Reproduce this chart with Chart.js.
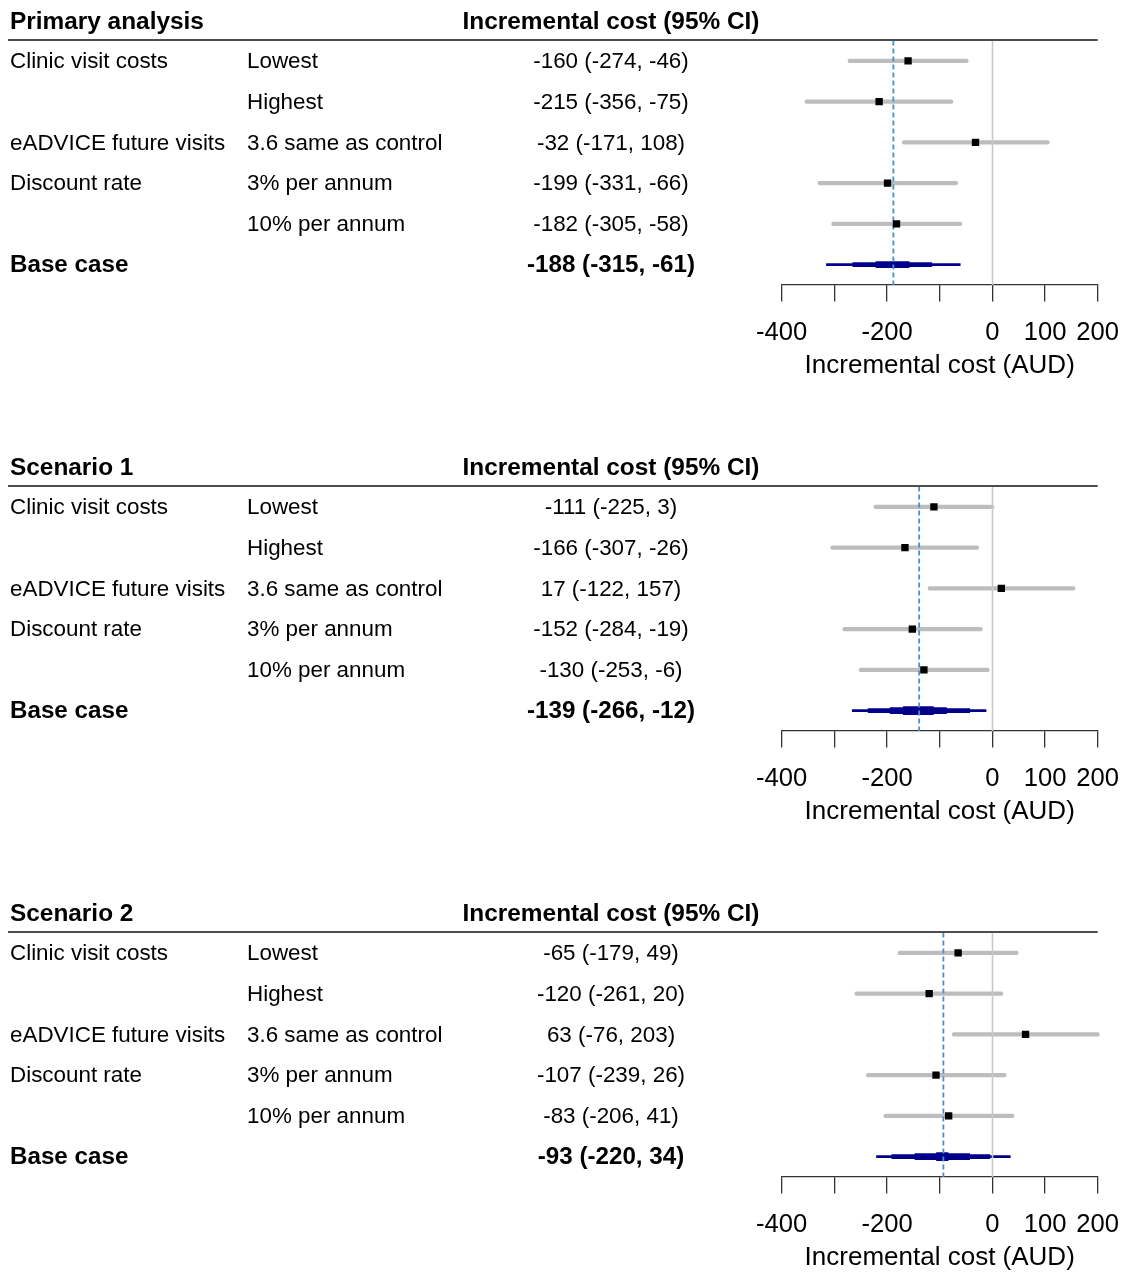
<!DOCTYPE html>
<html>
<head>
<meta charset="utf-8">
<script src="https://cdn.jsdelivr.net/npm/chart.js@4.4.1/dist/chart.umd.min.js"></script>
<style>
  html, body { margin: 0; padding: 0; background: #ffffff; overflow: hidden; width: 1126px; height: 1272px; }
  .panel { position: absolute; left: 0; width: 1126px; height: 446px; }
  canvas { display: block; }
</style>
</head>
<body>
<div class="panel" style="top:0px"><canvas id="primary" width="1126" height="446"></canvas></div>
<div class="panel" style="top:446px"><canvas id="scenario1" width="1126" height="446"></canvas></div>
<div class="panel" style="top:892px"><canvas id="scenario2" width="1126" height="446"></canvas></div>
<script>
// Table rows (shared by all three panels)
const rowGroups = ['Clinic visit costs', '', 'eADVICE future visits', 'Discount rate', '', 'Base case'];
const rowLevels = ['Lowest', 'Highest', '3.6 same as control', '3% per annum', '10% per annum', ''];
const rowKeys   = ['Lowest', 'Highest', '3.6 same as control', '3% per annum', '10% per annum', 'Base case'];

// Axis
const xMin = -400;
const xMax = 200;
const xStep = 100;
const xTickLabels = { '-400': '-400', '-300': '', '-200': '-200', '-100': '', '0': '0', '100': '100', '200': '200' };
const xAxisTitle = 'Incremental cost (AUD)';
const estimateHeader = 'Incremental cost (95% CI)';

// Primary analysis
const primaryEst  = [-160, -215, -32, -199, -182, -188];
const primaryLow  = [-274, -356, -171, -331, -305, -315];
const primaryHigh = [-46, -75, 108, -66, -58, -61];
const primaryBandMid   = [-265, -115];
const primaryBandInner = [-221, -158];
const primaryBandCore  = null;

// Scenario 1
const scen1Est  = [-111, -166, 17, -152, -130, -139];
const scen1Low  = [-225, -307, -122, -284, -253, -266];
const scen1High = [3, -26, 157, -19, -6, -12];
const scen1BandMid   = [-236, -43];
const scen1BandInner = [-194, -87];
const scen1BandCore  = [-169, -112];

// Scenario 2
const scen2Est  = [-65, -120, 63, -107, -83, -93];
const scen2Low  = [-179, -261, -76, -239, -206, -220];
const scen2High = [49, 20, 203, 26, 41, 34];
const scen2BandMid   = [-191, -5];
const scen2BandInner = [-147, -43];
const scen2BandCore  = [-106, -84];

const FONT = '"Liberation Sans", Arial, Helvetica, sans-serif';
const NAVY = '#00008b';
const AXIS_Y = 285;

// Reference lines, table text and header rule around each forest plot
const forestDecor = {
  id: 'forestDecor',
  beforeDatasetDraw(chart, args, opts) {
    if (args.index !== 0) return;
    const { ctx, chartArea: a, scales: { x } } = chart;
    ctx.save();
    // line of no difference
    const x0 = Math.round(x.getPixelForValue(0)) + 0.5;
    ctx.strokeStyle = '#c8c8c8';
    ctx.lineWidth = 1.6;
    ctx.beginPath(); ctx.moveTo(x0, a.top); ctx.lineTo(x0, a.bottom); ctx.stroke();
    // base-case estimate
    const xb = x.getPixelForValue(opts.base);
    ctx.strokeStyle = '#4a8fd0';
    ctx.lineWidth = 1.8;
    ctx.setLineDash([5, 3]);
    ctx.beginPath(); ctx.moveTo(xb, a.top); ctx.lineTo(xb, a.bottom); ctx.stroke();
    ctx.restore();
  },
  afterDraw(chart, args, opts) {
    const { ctx, chartArea: a, scales: { y } } = chart;
    ctx.save();
    ctx.fillStyle = '#000';
    ctx.textBaseline = 'middle';
    // header
    ctx.font = 'bold 24.4px ' + FONT;
    ctx.textAlign = 'left';
    ctx.fillText(opts.title, 10, 22);
    ctx.textAlign = 'center';
    ctx.fillText(estimateHeader, 611, 22);
    ctx.strokeStyle = '#4d4d4d';
    ctx.lineWidth = 2;
    ctx.beginPath(); ctx.moveTo(8, a.top - 0.5); ctx.lineTo(a.right, a.top - 0.5); ctx.stroke();
    // rows
    const last = rowKeys.length - 1;
    rowKeys.forEach((k, i) => {
      const yy = y.getPixelForValue(i) + 1;
      const bold = i === last;
      ctx.font = (bold ? 'bold 24.2px ' : '22.4px ') + FONT;
      ctx.textAlign = 'left';
      if (rowGroups[i]) ctx.fillText(rowGroups[i], 10, yy);
      if (rowLevels[i]) ctx.fillText(rowLevels[i], 247, yy);
      ctx.textAlign = 'center';
      ctx.fillText(opts.est[i] + ' (' + opts.low[i] + ', ' + opts.high[i] + ')', 611, yy);
    });
    ctx.restore();
  }
};

function buildPanel(id, title, est, low, high, bandMid, bandInner, bandCore) {
  const last = rowKeys.length - 1;
  const whiskers = rowKeys.map((k, i) => (i === last ? null : [low[i], high[i]]));
  const band = (range) => rowKeys.map((k, i) => (i === last && range ? range : null));
  const points = rowKeys.slice(0, last).map((k, i) => ({ x: est[i], y: k }));

  new Chart(document.getElementById(id), {
    type: 'bar',
    data: {
      labels: rowKeys,
      datasets: [
        { type: 'scatter', data: points, pointStyle: 'rect', pointRadius: 5.2, pointBorderWidth: 0,
          backgroundColor: '#000', borderColor: '#000', xAxisID: 'x', yAxisID: 'y' },
        { data: band(bandCore), backgroundColor: NAVY, barThickness: 8, grouped: false, borderSkipped: false, xAxisID: 'x', yAxisID: 'y' },
        { data: band(bandInner), backgroundColor: NAVY, barThickness: 6, grouped: false, borderSkipped: false, xAxisID: 'x', yAxisID: 'y' },
        { data: band(bandMid), backgroundColor: NAVY, barThickness: 4, grouped: false, borderSkipped: false, xAxisID: 'x', yAxisID: 'y' },
        { data: band([low[last], high[last]]), backgroundColor: NAVY, barThickness: 2, grouped: false, borderSkipped: false, xAxisID: 'x', yAxisID: 'y' },
        { data: whiskers, backgroundColor: '#bdbdbd', barThickness: 3.5, borderRadius: 1.75, grouped: false,
          borderSkipped: false, clip: false, xAxisID: 'x', yAxisID: 'y' }
      ]
    },
    options: {
      indexAxis: 'y',
      responsive: false,
      devicePixelRatio: 1,
      animation: false,
      events: [],
      layout: { padding: { left: 781.7, right: 28.3, top: 40.5, bottom: 0 } },
      scales: {
        y: { type: 'category', display: false, offset: true },
        x: {
          type: 'linear', min: xMin, max: xMax,
          afterFit: (s) => { s.height = 446 - AXIS_Y; s.paddingLeft = 0; s.paddingRight = 0; },
          ticks: {
            stepSize: xStep, autoSkip: false, maxRotation: 0, padding: 16.2, color: '#000',
            font: { family: FONT, size: 25.6 },
            callback: (v) => xTickLabels[String(v)] ?? ''
          },
          grid: { display: true, drawOnChartArea: false, drawTicks: true, tickLength: 16.5, color: '#333', lineWidth: 1.3 },
          border: { display: true, color: '#333', width: 1.3 },
          title: { display: true, text: xAxisTitle, color: '#000', font: { family: FONT, size: 26 },
                   padding: { top: 0, bottom: 64.4 } }
        }
      },
      plugins: {
        legend: { display: false },
        tooltip: { enabled: false },
        forestDecor: { title, est, low, high, base: est[last] }
      }
    },
    plugins: [forestDecor]
  });
}

buildPanel('primary', 'Primary analysis', primaryEst, primaryLow, primaryHigh, primaryBandMid, primaryBandInner, primaryBandCore);
buildPanel('scenario1', 'Scenario 1', scen1Est, scen1Low, scen1High, scen1BandMid, scen1BandInner, scen1BandCore);
buildPanel('scenario2', 'Scenario 2', scen2Est, scen2Low, scen2High, scen2BandMid, scen2BandInner, scen2BandCore);
</script>
</body>
</html>
